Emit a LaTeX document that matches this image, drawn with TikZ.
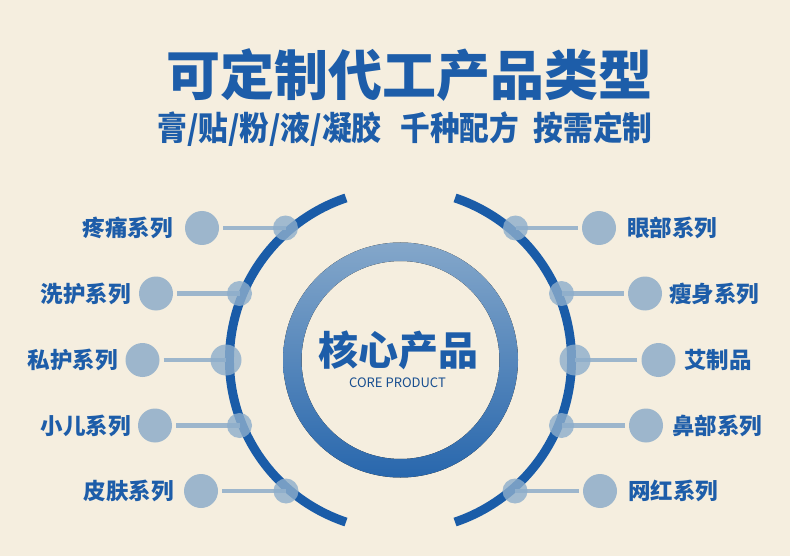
\documentclass[tikz,border=0pt]{standalone}
\usepackage{fontspec}
\usepackage{graphicx}
\newfontfamily\cjk{Noto Sans CJK SC}
\definecolor{bg}{HTML}{F5EEDF}
\definecolor{tblue}{HTML}{1D5DA9}
\definecolor{arcblue}{HTML}{1A5CA8}
\definecolor{ringtop}{HTML}{84A7CA}
\definecolor{ringbot}{HTML}{2867AD}
\definecolor{gblue}{HTML}{9DB6CC}
\definecolor{cblue}{HTML}{8DAECB}
\tikzset{
  outerc/.style={circle, fill=gblue, minimum size=34pt, inner sep=0pt},
  arcc/.style={circle, fill=cblue, fill opacity=0.8, minimum size=25pt, inner sep=0pt},
  arcbig/.style={arcc, minimum size=31pt},
  conn/.style={draw=gblue, line width=4.5pt, shorten <=4pt},
  arcline/.style={draw=arcblue, line width=9pt},
  lab/.style={font=\cjk\bfseries\fontsize{22.5}{22.5}\selectfont, text=tblue, inner sep=0pt},
  labl/.style={lab, anchor=east},
  labr/.style={lab, anchor=west},
}
\begin{document}
\begin{tikzpicture}[x=1pt,y=-1pt]
\fill[bg] (0,0) rectangle (790,556);
\useasboundingbox (0,0) rectangle (790,556);
% titles
\node[font=\cjk\bfseries\fontsize{54}{54}\selectfont, text=tblue, inner sep=0pt] (title) at (409,75) {可定制代工产品类型};
\node[font=\cjk\bfseries\fontsize{33}{33}\selectfont, text=tblue, inner sep=0pt] (sub) at (405,129) {\scalebox{0.9}[1]{膏/贴/粉/液/凝胶\hspace{21pt}千种配方\hspace{16pt}按需定制}};
% centre
\coordinate (c) at (400.5,360);
\fill[top color=ringtop, bottom color=ringbot, even odd rule] (c) circle[radius=117.5] (c) circle[radius=99];
\node[font=\cjk\bfseries\fontsize{40}{40}\selectfont, text=tblue, inner sep=0pt] (core) at (398.5,350) {核心产品};
\node[font=\cjk\fontsize{13}{13}\selectfont, text=tblue!85!black, inner sep=0pt] (coreen) at (397.5,383) {CORE PRODUCT};
% big arcs
\draw[arcline] (c) ++(108.6:171) arc[start angle=108.6, end angle=251.4, radius=171];
\draw[arcline] (c) ++(-71.4:171) arc[start angle=-71.4, end angle=71.4, radius=171];
% outer circles
\node[outerc] (lo1) at (202,228) {};
\node[outerc] (lo2) at (156,293.5) {};
\node[outerc] (lo3) at (142.5,360) {};
\node[outerc] (lo4) at (155,425.5) {};
\node[outerc] (lo5) at (201,491) {};
\node[outerc] (ro1) at (599,228) {};
\node[outerc] (ro2) at (645,293.5) {};
\node[outerc] (ro3) at (658.5,360) {};
\node[outerc] (ro4) at (646,425.5) {};
\node[outerc] (ro5) at (600,491) {};
\coordinate (la1) at (285.5,228);
\coordinate (la2) at (239.5,293.5);
\coordinate (la3) at (226,360);
\coordinate (la4) at (239.5,425.5);
\coordinate (la5) at (286,491);
\coordinate (ra1) at (515.5,228);
\coordinate (ra2) at (561.5,293.5);
\coordinate (ra3) at (575,360);
\coordinate (ra4) at (561.5,425.5);
\coordinate (ra5) at (515,491);
\foreach \i in {1,2,3,4,5} {
  \draw[conn] (lo\i) -- (la\i);
  \draw[conn] (ro\i) -- (ra\i);
}
\node[arcc] (lc1) at (la1) {};
\node[arcc] (lc2) at (la2) {};
\node[arcbig] (lc3) at (la3) {};
\node[arcc] (lc4) at (la4) {};
\node[arcc] (lc5) at (la5) {};
\node[arcc] (rc1) at (ra1) {};
\node[arcc] (rc2) at (ra2) {};
\node[arcbig] (rc3) at (ra3) {};
\node[arcc] (rc4) at (ra4) {};
\node[arcc] (rc5) at (ra5) {};
% labels
\node[labl] (t1) at (173,228) {疼痛系列};
\node[labl] (t2) at (131,293.5) {洗护系列};
\node[labl] (t3) at (118,360) {私护系列};
\node[labl] (t4) at (131,425.5) {小儿系列};
\node[labl] (t5) at (174,491) {皮肤系列};
\node[labr] (s1) at (627,228) {眼部系列};
\node[labr] (s2) at (669,293.5) {瘦身系列};
\node[labr] (s3) at (684,360) {艾制品};
\node[labr] (s4) at (672,425.5) {鼻部系列};
\node[labr] (s5) at (628,491) {网红系列};
\end{tikzpicture}
\end{document}
